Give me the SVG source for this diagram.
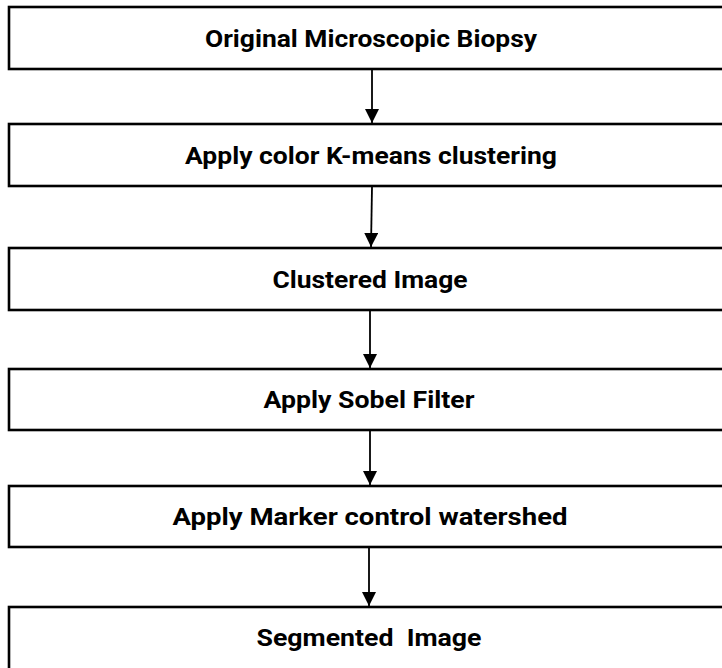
<svg xmlns="http://www.w3.org/2000/svg" width="722" height="668" viewBox="0 0 722 668">
<style>
.box{fill:#fff;stroke:#000;stroke-width:2.6}
.lbl{font-family:Roboto,"Liberation Sans",sans-serif;font-weight:bold;font-size:24px;fill:#000;text-anchor:middle}
.con{stroke:#000;stroke-width:1.8;fill:none;marker-end:url(#ah)}
</style>
<defs>
<marker id="ah" viewBox="0 0 14 14" refX="14" refY="7" markerWidth="14" markerHeight="14" markerUnits="userSpaceOnUse" orient="auto">
<path d="M0,0 L14,7 L0,14 Z" fill="#000"/>
</marker>
</defs>
<rect width="722" height="668" fill="#fff"/>
<g id="n1"><rect class="box" x="9" y="7" width="740" height="62"/><text class="lbl" x="371" y="47" textLength="332" lengthAdjust="spacingAndGlyphs">Original Microscopic Biopsy</text></g>
<g id="n2"><rect class="box" x="9" y="124" width="740" height="62"/><text class="lbl" x="371" y="164" textLength="372" lengthAdjust="spacingAndGlyphs">Apply color K-means clustering</text></g>
<g id="n3"><rect class="box" x="9" y="248" width="740" height="62"/><text class="lbl" x="370" y="288" textLength="195" lengthAdjust="spacingAndGlyphs">Clustered Image</text></g>
<g id="n4"><rect class="box" x="9" y="369" width="740" height="61"/><text class="lbl" x="369" y="408" textLength="211" lengthAdjust="spacingAndGlyphs">Apply Sobel Filter</text></g>
<g id="n5"><rect class="box" x="9" y="486" width="740" height="61"/><text class="lbl" x="370" y="525" textLength="395" lengthAdjust="spacingAndGlyphs">Apply Marker control watershed</text></g>
<g id="n6"><rect class="box" x="9" y="607" width="740" height="70"/><text class="lbl" x="369" y="646" textLength="225" lengthAdjust="spacingAndGlyphs" xml:space="preserve">Segmented  Image</text></g>
<g id="connectors">
<line class="con" x1="372" y1="70" x2="372" y2="123"/>
<line class="con" x1="372" y1="187" x2="371" y2="247"/>
<line class="con" x1="370" y1="311" x2="370" y2="368"/>
<line class="con" x1="370" y1="431" x2="370" y2="485"/>
<line class="con" x1="369" y1="548" x2="369" y2="606"/>
</g>
</svg>
